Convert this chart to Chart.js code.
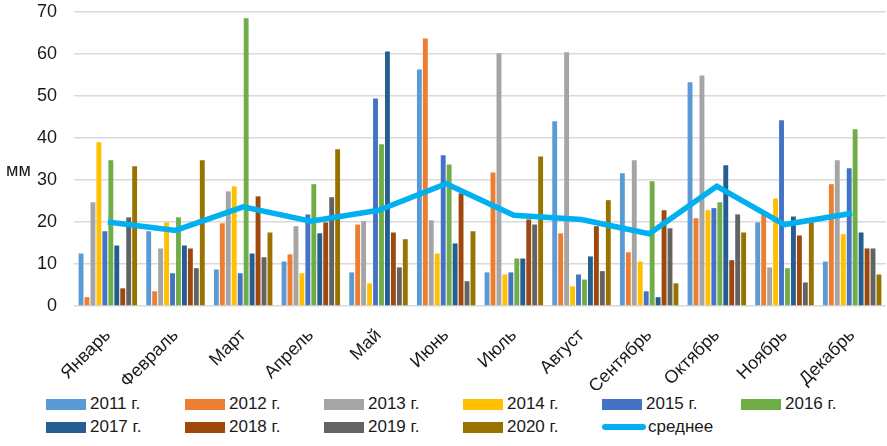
<!DOCTYPE html>
<html>
<head>
<meta charset="utf-8">
<script src="https://cdn.jsdelivr.net/npm/chart.js@4"></script>
<style>
  body { margin: 0; background: #fff; font-family: 'Liberation Sans', Arial, sans-serif; }
  #wrap { position: relative; width: 887px; height: 446px; overflow: hidden; }
  #box { position: absolute; left: 0; top: 0; width: 887px; height: 390px; }
  #unit { position: absolute; left: 6px; top: 160px; font-size: 18px; color: #1a1a1a; }
  #legend { position: absolute; left: 46px; top: 394px; display: grid; grid-template-columns: repeat(6, 139px); row-gap: 3px; font-size: 17px; color: #1a1a1a; }
  .item { display: flex; align-items: center; height: 20px; white-space: nowrap; }
  .sw { width: 40px; height: 11px; margin-right: 4px; flex: none; }
  .ln { width: 44px; height: 6px; border-radius: 3px; margin-right: 2px; flex: none; }
</style>
</head>
<body>
<div id="wrap">
  <div id="box"><canvas id="rainChart"></canvas></div>
  <div id="unit">мм</div>
  <div id="legend"></div>
</div>
<script>
const months = ['Январь', 'Февраль', 'Март', 'Апрель', 'Май', 'Июнь', 'Июль', 'Август', 'Сентябрь', 'Октябрь', 'Ноябрь', 'Декабрь'];
const years = ['2011 г.', '2012 г.', '2013 г.', '2014 г.', '2015 г.', '2016 г.', '2017 г.', '2018 г.', '2019 г.', '2020 г.'];
const yearColors = ['#5B9BD5', '#ED7D31', '#A5A5A5', '#FFC000', '#4472C4', '#70AD47', '#255E91', '#9E480E', '#636363', '#997300'];

const y2011 = [12.5, 17.8, 8.7, 10.6, 8.0, 56.3, 8.0, 44.0, 31.6, 53.3, 19.9, 10.6];
const y2012 = [2.1, 3.5, 19.7, 12.3, 19.4, 63.7, 31.8, 17.3, 12.8, 20.9, 21.8, 29.0];
const y2013 = [24.7, 13.7, 27.3, 19.0, 20.2, 20.4, 60.2, 60.4, 34.7, 54.9, 9.2, 34.7];
const y2014 = [39.0, 19.9, 28.5, 7.8, 5.4, 12.5, 7.5, 4.7, 10.6, 22.8, 25.6, 17.1];
const y2015 = [17.8, 7.8, 7.8, 21.8, 49.4, 35.9, 8.0, 7.5, 3.5, 23.3, 44.2, 32.8];
const y2016 = [34.7, 21.1, 68.5, 29.0, 38.5, 33.7, 11.3, 6.3, 29.7, 24.7, 9.0, 42.1];
const y2017 = [14.4, 14.4, 12.5, 17.3, 60.6, 14.9, 11.3, 11.8, 2.1, 33.5, 21.3, 17.5];
const y2018 = [4.2, 13.7, 26.1, 19.9, 17.5, 26.8, 20.6, 19.0, 22.8, 10.9, 16.8, 13.7];
const y2019 = [21.1, 9.0, 11.6, 25.9, 9.2, 5.9, 19.4, 8.3, 18.5, 21.8, 5.6, 13.7];
const y2020 = [33.3, 34.7, 17.5, 37.3, 15.9, 17.8, 35.6, 25.2, 5.4, 17.5, 19.9, 7.5];
const mean = [20.0, 18.0, 23.6, 20.2, 22.8, 29.1, 21.6, 20.6, 17.2, 28.5, 19.4, 22.1];

const yTicks = [0, 10, 20, 30, 40, 50, 60, 70];
const meanLabel = 'среднее';
const meanColor = '#00B0F0';

const fontFamily = "'Liberation Sans', Arial, sans-serif";
const yearSeries = [y2011, y2012, y2013, y2014, y2015, y2016, y2017, y2018, y2019, y2020];

const datasets = yearSeries.map((vals, i) => ({
    type: 'bar',
    label: years[i],
    data: vals,
    backgroundColor: yearColors[i],
    categoryPercentage: 0.88,
    barPercentage: 0.82,
    order: 1
}));

datasets.push({
    type: 'line',
    label: meanLabel,
    data: mean,
    borderColor: meanColor,
    borderWidth: 5.5,
    pointRadius: 0,
    tension: 0,
    fill: false,
    order: 0
});

new Chart(document.getElementById('rainChart'), {
    type: 'bar',
    data: { labels: months, datasets: datasets },
    options: {
        responsive: true,
        maintainAspectRatio: false,
        animation: false,
        layout: { padding: { top: 12, right: 1, left: 0, bottom: 0 } },
        plugins: {
            legend: { display: false },
            tooltip: { enabled: false }
        },
        scales: {
            x: {
                grid: { display: false },
                border: { display: false },
                ticks: {
                    color: '#1a1a1a',
                    font: { family: fontFamily, size: 18 },
                    minRotation: 45,
                    maxRotation: 45,
                    padding: 11
                },
                afterFit: function (scale) { scale.height = 84; }
            },
            y: {
                min: 0,
                max: 70,
                afterBuildTicks: function (scale) { scale.ticks = yTicks.map(v => ({ value: v })); },
                grid: { color: '#D9D9D9', lineWidth: 1.5, drawTicks: false },
                border: { display: false },
                ticks: {
                    color: '#1a1a1a',
                    font: { family: fontFamily, size: 18 },
                    padding: 17
                },
                afterFit: function (scale) {
                    scale.width = 74;
                    scale.paddingTop = 0;
                    scale.paddingBottom = 0;
                }
            }
        }
    }
});

// legend below the chart, six columns like the original
const legendDiv = document.getElementById('legend');
years.forEach((y, i) => {
    legendDiv.innerHTML += `<div class="item"><span class="sw" style="background:${yearColors[i]}"></span>${y}</div>`;
});
legendDiv.innerHTML += `<div class="item"><span class="ln" style="background:${meanColor}"></span>${meanLabel}</div>`;
</script>
</body>
</html>
